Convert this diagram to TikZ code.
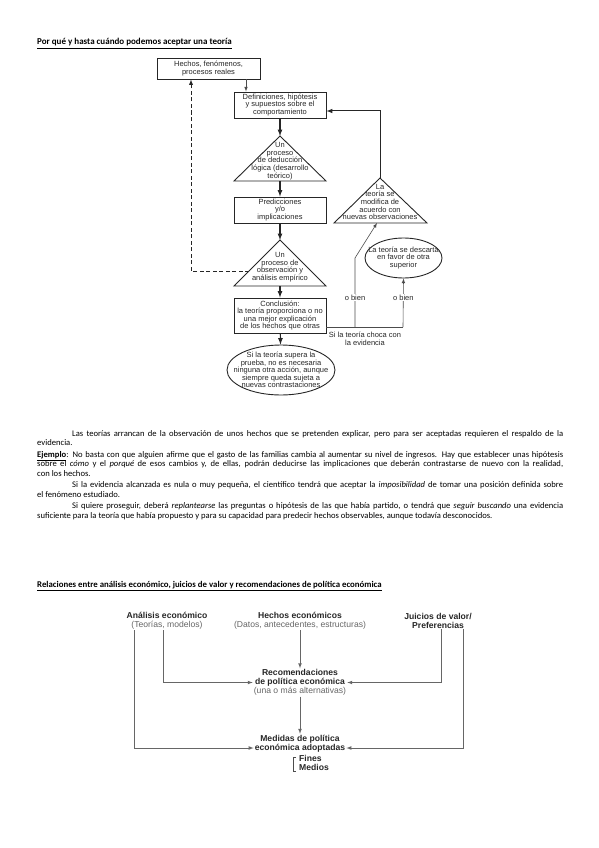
\documentclass[tikz,border=0pt]{standalone}
\usepackage{fontspec}
\setmainfont{Carlito}
\newfontfamily\flowfont{Liberation Sans}
\usetikzlibrary{shapes.geometric}
\newcommand{\negrita}[1]{\textcolor{black!85}{\textbf{#1}}}
\begin{document}
\begin{tikzpicture}[x=1pt, y=-1pt,
  flow/.style={font=\flowfont\fontsize{7.5}{7.6}\selectfont, text=black!85, align=center, inner sep=0pt},
  caja/.style={flow, draw=black!85, line width=0.9pt, minimum width=92pt},
  elipse/.style={draw=black!85, line width=0.9pt, ellipse, inner sep=0pt},
  gruesa/.style={->, >=latex, line width=1.2pt, black!85},
  fina/.style={line width=0.6pt, black!70},
  econ/.style={font=\flowfont\fontsize{8.6}{9}\selectfont, text=black!60, align=center, inner sep=1pt},
  flecha/.style={->, >=latex, line width=0.7pt, black!60},
]
\useasboundingbox (0,0) rectangle (599,848);

\node[anchor=base west, inner sep=0pt, font=\fontsize{9}{10}\selectfont\bfseries] (titulo1) at (37,45)
  {\underline{Por qué y hasta cuándo podemos aceptar una teoría}};

% diagrama de flujo
\node[caja, minimum width=103pt, minimum height=21pt] (hechos) at (208.5,68.5) {Hechos, fenómenos,\\procesos reales};
\node[caja, minimum height=26pt] (defin) at (280,105) {Definiciones, hipótesis\\y supuestos sobre el\\comportamiento};
\draw[line width=0.9pt, black!85] (234,181) coordinate (deduccionL) -- (280,136) coordinate (deduccionA)
  -- (326,181) coordinate (deduccionR) -- cycle;
\coordinate (deduccionB) at (280,181);
\node[flow] (deduccion) at (280,161) {Un\\proceso\\de deducción\\lógica (desarrollo\\teórico)};
\node[caja, minimum height=26pt] (predic) at (280,210) {Predicciones\\y/o\\implicaciones};
\draw[line width=0.9pt, black!85] (234,286) coordinate (observL) -- (280,240) coordinate (observA)
  -- (326,286) coordinate (observR) -- cycle;
\coordinate (observB) at (280,286);
\coordinate (observE) at (249,271);
\node[flow] (observ) at (280,267) {Un\\proceso de\\observación y\\análisis empírico};
\node[caja, minimum height=35pt] (concl) at (280,315.5) {Conclusión:\\la teoría proporciona o no\\una mejor explicación\\de los hechos que otras};
\node[elipse, minimum width=108pt, minimum height=50pt,
  label={[flow]center:{Si la teoría supera la\\prueba, no es necesaria\\ninguna otra acción, aunque\\siempre queda sujeta a\\nuevas contrastaciones}}] (supera) at (281,370) {};

\draw[line width=0.9pt, black!85] (334,223) coordinate (modificaL) -- (380,178) coordinate (modificaA)
  -- (427,223) coordinate (modificaR) -- cycle;
\coordinate (modificaP) at (377,223);
\node[flow] (modifica) at (380,202) {La\\teoría se\\modifica de\\acuerdo con\\nuevas observaciones};
\node[elipse, minimum width=77pt, minimum height=40pt,
  label={[flow]center:{La teoría se descarta\\en favor de otra\\superior}}] (descarta) at (403.5,258) {};

\coordinate (bienA) at (355,327);
\coordinate (bienB) at (403,327);
\coordinate (quiebre) at (355,258);
\node[flow] (choca) at (365,339) {Si la teoría choca con\\la evidencia};

\draw[->, >=latex, fina] ([xshift=37.5pt]hechos.south) -- ([xshift=37.5pt]hechos.south |- defin.north);
\draw[gruesa] (defin) -- (deduccionA);
\draw[gruesa] (deduccionB) -- (predic);
\draw[gruesa] (predic) -- (observA);
\draw[gruesa] (observB) -- (concl);
\draw[gruesa] (concl) -- (supera);
\draw[->, >=latex, line width=0.9pt, black!85, dash pattern=on 4pt off 2.5pt] (observE) -| ([xshift=-17.5pt]hechos.south);
\draw[gruesa, line width=1pt] (modificaA) |- ([yshift=-6pt]defin.east);
\draw[fina] ([yshift=-11.5pt]concl.east) -- (bienB);
\draw[->, >=latex, fina] (bienA) -- node[pos=0.43, flow, fill=white, inner sep=1pt] {o bien} (quiebre) -- (modificaP);
\draw[->, >=latex, fina] (bienB) -- node[pos=0.61, flow, fill=white, inner sep=1pt] {o bien} (descarta.south);

% texto
\node[anchor=north west, inner sep=0pt, text width=526pt, align=justify, font=\fontsize{8.6}{9.8}\selectfont] (texto) at (37,430) {%
\setlength{\parskip}{1.4pt}%
\hspace*{35pt}Las teorías arrancan de la observación de unos hechos que se pretenden explicar, pero para ser aceptadas requieren el respaldo de la\linebreak
evidencia.\par
\underline{\textbf{Ejemplo}}: No basta con que alguien afirme que el gasto de las familias cambia al aumentar su nivel de ingresos. Hay que establecer unas hipótesis\linebreak
sobre el \textit{cómo} y el \textit{porqué} de esos cambios y, de ellas, podrán deducirse las implicaciones que deberán contrastarse de nuevo con la realidad,\linebreak
con los hechos.\par
\hspace*{35pt}Si la evidencia alcanzada es nula o muy pequeña, el científico tendrá que aceptar la \textit{imposibilidad} de tomar una posición definida sobre\linebreak
el fenómeno estudiado.\par
\hspace*{35pt}Si quiere proseguir, deberá \textit{replantearse} las preguntas o hipótesis de las que había partido, o tendrá que \textit{seguir buscando} una evidencia\linebreak
suficiente para la teoría que había propuesto y para su capacidad para predecir hechos observables, aunque todavía desconocidos.};

\node[anchor=base west, inner sep=0pt, font=\fontsize{8.8}{10}\selectfont\bfseries] (titulo2) at (37,587)
  {\underline{Relaciones entre análisis económico, juicios de valor y recomendaciones de política económica}};

% relaciones
\node[econ] (analisis) at (167,620.5) {\negrita{Análisis económico}\\(Teorías, modelos)};
\node[econ] (hechoseco) at (300,620.5) {\negrita{Hechos económicos}\\(Datos, antecedentes, estructuras)};
\node[econ] (juicios) at (438,620.5) {\negrita{Juicios de valor/}\\\negrita{Preferencias}};
\node[econ] (recom) at (300,682.5) {\negrita{Recomendaciones}\\\negrita{de política económica}\\(una o más alternativas)};
\node[econ] (medidas) at (300,743.5) {\negrita{Medidas de política}\\\negrita{económica adoptadas}};
\node[econ, align=left, anchor=west] (fines) at (298,763) {\negrita{Fines}\\\negrita{Medios}};

\draw[flecha] ([xshift=-33pt]analisis.south) |- ([yshift=-4.5pt]medidas.west);
\draw[flecha] ([xshift=-4pt]analisis.south) |- (recom.west);
\draw[flecha] (hechoseco) -- (recom);
\draw[flecha] ([xshift=3pt]juicios.south) |- (recom.east);
\draw[flecha] ([xshift=25pt]juicios.south) |- ([yshift=-4.5pt]medidas.east);
\draw[flecha] (recom) -- (medidas);
\draw[fina] ([xshift=-2pt,yshift=-3pt]fines.north west) -| ([xshift=-5pt,yshift=1pt]fines.south west) -- ([xshift=-2pt,yshift=1pt]fines.south west);
\end{tikzpicture}
\end{document}
